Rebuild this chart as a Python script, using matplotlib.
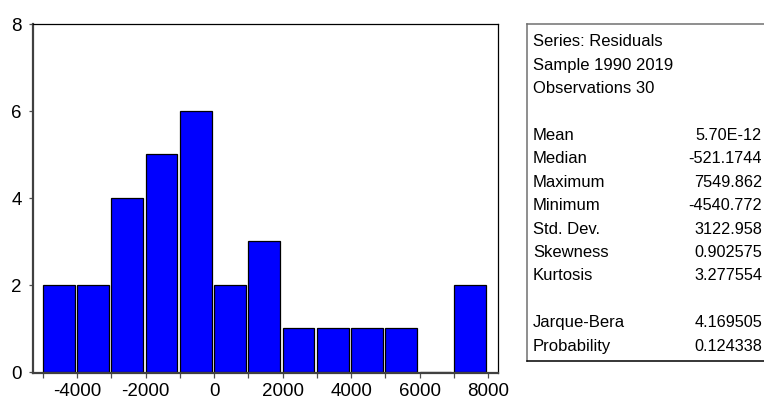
import matplotlib
matplotlib.use("Agg")
import matplotlib.pyplot as plt
from matplotlib.ticker import MultipleLocator, FixedLocator

plt.rcParams['font.family'] = ['Liberation Sans', 'DejaVu Sans']

# histogram of residuals, bins of width 1000
bin_lefts = [-5000, -4000, -3000, -2000, -1000, 0, 1000, 2000, 3000, 4000, 5000, 6000, 7000]
counts = [2, 2, 4, 5, 6, 2, 3, 1, 1, 1, 1, 0, 2]
bin_width = 1000

x_tick_labels = [-4000, -2000, 0, 2000, 4000, 6000, 8000]
y_ticks = [0, 2, 4, 6, 8]

header_lines = ["Series: Residuals", "Sample 1990 2019", "Observations 30"]
stat_names = ["Mean", "Median", "Maximum", "Minimum", "Std. Dev.", "Skewness", "Kurtosis"]
stat_values = ["5.70E-12", "-521.1744", "7549.862", "-4540.772", "3122.958", "0.902575", "3.277554"]
test_names = ["Jarque-Bera", "Probability"]
test_values = ["4.169505", "0.124338"]

W, H = 764, 402
fig = plt.figure(figsize=(W / 100, H / 100), dpi=100)

# histogram panel
ax = fig.add_axes([33 / W, (H - 374) / H, (498 - 33) / W, (374 - 25) / H])
ax.bar(bin_lefts, counts, width=bin_width * 0.93, align='edge',
       color='#0000FF', edgecolor='black', linewidth=0.9)
ax.set_xlim(-5290, 8290)
ax.set_ylim(-0.03, 8)
ax.xaxis.set_major_locator(FixedLocator(x_tick_labels))
ax.xaxis.set_minor_locator(MultipleLocator(1000))
ax.yaxis.set_major_locator(FixedLocator(y_ticks))
ax.set_xticklabels([str(v) for v in x_tick_labels])
ax.tick_params(axis='both', which='both', direction='out', colors='#505050',
               labelcolor='black', labelsize=13.5, width=0.9)
ax.tick_params(axis='x', which='both', length=3.5, pad=3)
ax.tick_params(axis='y', which='both', length=3, pad=5)
for side in ['left', 'bottom']:
    ax.spines[side].set_color('#404040')
    ax.spines[side].set_linewidth(1.6)
for side in ['top', 'right']:
    ax.spines[side].set_color('black')
    ax.spines[side].set_linewidth(0.9)

# statistics box
box = fig.add_axes([527 / W, (H - 362) / H, (W - 527) / W + 0.01, (362 - 25) / H])
box.set_xticks([])
box.set_yticks([])
box.set_xlim(0, 1)
box.set_ylim(0, 1)
box.spines['right'].set_visible(False)
box.spines['left'].set_color('#707070')
box.spines['top'].set_color('#707070')
box.spines['bottom'].set_color('black')
for side in ['left', 'top', 'bottom']:
    box.spines[side].set_linewidth(1.1)

rows = [(h, "") for h in header_lines] + [("", "")] + \
       list(zip(stat_names, stat_values)) + [("", "")] + \
       list(zip(test_names, test_values))

label_x = 533 / W
value_x = 762 / W
for i, (name, val) in enumerate(rows):
    y = 1 - (42 + i * 23.4) / H
    if name:
        fig.text(label_x, y, name, ha='left', va='center', fontsize=12)
    if val:
        fig.text(value_x, y, val, ha='right', va='center', fontsize=11.7)

fig.savefig("out.png", dpi=100)
